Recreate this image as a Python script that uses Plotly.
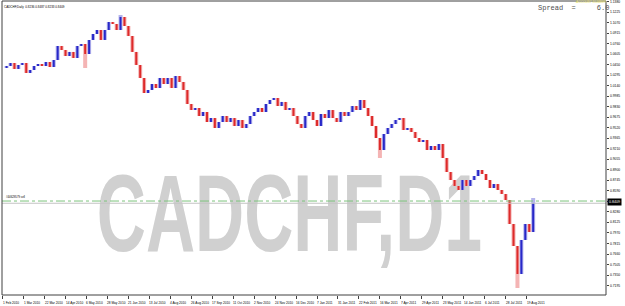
import plotly.graph_objects as go

# ---- data (daily CADCHF, one sample every 3 bars) ----
closes = [
    1.0405, 1.0435, 1.0479, 1.0391, 1.0450, 1.0479, 1.0332, 1.0376, 1.0435, 1.0464,
    1.0435, 1.0494, 1.0420, 1.0523, 1.0730, 1.0671, 1.0582, 1.0642, 1.0553, 1.0730,
    1.0760, 1.0612, 1.0819, 1.0907, 1.0966, 1.0819, 1.0966, 1.1084, 1.1055, 1.0966,
    1.1158, 1.1025, 1.0878, 1.0642, 1.0450, 1.0258, 1.0036, 1.0081, 1.0169, 1.0110,
    1.0258, 1.0169, 1.0258, 1.0110, 1.0287, 1.0199, 1.0081, 0.9874, 0.9785, 0.9815,
    0.9697, 0.9756, 0.9608, 0.9667, 0.9520, 0.9608, 0.9697, 0.9608, 0.9667, 0.9549,
    0.9638, 0.9520, 0.9579, 0.9697, 0.9756, 0.9815, 0.9756, 0.9874, 0.9933, 0.9963,
    0.9844, 0.9904, 0.9785, 0.9815, 0.9697, 0.9579, 0.9520, 0.9697, 0.9756, 0.9638,
    0.9549, 0.9726, 0.9667, 0.9785, 0.9667, 0.9608, 0.9756, 0.9697, 0.9756, 0.9844,
    0.9785, 0.9933, 0.9815, 0.9697, 0.9549, 0.9372, 0.9195, 0.9431, 0.9520, 0.9579,
    0.9638, 0.9667, 0.9490, 0.9520, 0.9461, 0.9372, 0.9313, 0.9343, 0.9195, 0.9254,
    0.9195, 0.9284, 0.9077, 0.8870, 0.8752, 0.8664, 0.8605, 0.8752, 0.8664, 0.8752,
    0.8811, 0.8900, 0.8841, 0.8752, 0.8634, 0.8693, 0.8605, 0.8546, 0.8457, 0.8103,
    0.7778, 0.7365, 0.7867, 0.8103, 0.7985, 0.8409,
]
low_spike_idx = [21, 96, 131]
low_spike = [1.0405, 0.9077, 0.7158]
high_spike_idx = [30, 135]
high_spike = [1.1188, 0.8487]

BARS_PER_SAMPLE = 3
BARS_PER_DATE_LABEL = 16
date_labels = [
    "1 Feb 2010", "1 Mar 2010", "22 Mar 2010", "14 Apr 2010", "6 May 2010",
    "28 May 2010", "21 Jun 2010", "13 Jul 2010", "4 Aug 2010", "26 Aug 2010",
    "17 Sep 2010", "11 Oct 2010", "2 Nov 2010", "24 Nov 2010", "16 Dec 2010",
    "7 Jan 2011", "31 Jan 2011", "22 Feb 2011", "16 Mar 2011", "7 Apr 2011",
    "29 Apr 2011", "23 May 2011", "14 Jun 2011", "6 Jul 2011", "28 Jul 2011",
    "19 Aug 2011",
]
price_labels = [
    1.1380, 1.1225, 1.1070, 1.0915, 1.0760, 1.0605, 1.0450, 1.0295, 1.0140, 0.9985,
    0.9830, 0.9675, 0.9520, 0.9365, 0.9210, 0.9055, 0.8900, 0.8745, 0.8590, 0.8435,
    0.8280, 0.8125, 0.7970, 0.7815, 0.7660, 0.7505, 0.7350, 0.7195, 0.7040,
]
order_price = 0.8442
bid_price = 0.8409
symbol = "CADCHF,D1"
header = "CADCHF,Daily  0.8236 0.8487 0.8233 0.8409"

# ---- build bars ----
n = len(closes)
xs = [BARS_PER_SAMPLE * k for k in range(n)]
opens = [closes[0]] + closes[:-1]
highs = [max(o, c) for o, c in zip(opens, closes)]
lows = [min(o, c) for o, c in zip(opens, closes)]
for i, v in zip(low_spike_idx, low_spike):
    lows[i] = v
for i, v in zip(high_spike_idx, high_spike):
    highs[i] = v

def segs(sel, ya, yb):
    X, Y = [], []
    for i in range(n):
        if sel(i):
            X += [xs[i], xs[i], None]
            Y += [ya[i], yb[i], None]
    return X, Y

up = lambda i: closes[i] >= opens[i]
dn = lambda i: closes[i] < opens[i]

fig = go.Figure()

# watermark (behind bars)
fig.add_trace(go.Scatter(
    x=[219], y=[0.8162], mode="text", text=[symbol],
    textfont=dict(family="Liberation Sans, Arial", size=68, color="#d0d0d0", weight="bold"),
    hoverinfo="skip", showlegend=False))

for sel, light, dark in [(up, "#b4b4ec", "#2828c8"), (dn, "#f4b4b4", "#dd2a2a")]:
    X, Y = segs(sel, lows, highs)
    fig.add_trace(go.Scatter(x=X, y=Y, mode="lines", line=dict(color=light, width=4.0),
                             hoverinfo="skip", showlegend=False))
for sel, light, dark in [(up, "#b4b4ec", "#2828c8"), (dn, "#f4b4b4", "#dd2a2a")]:
    X, Y = segs(sel, opens, closes)
    fig.add_trace(go.Scatter(x=X, y=Y, mode="lines", line=dict(color=dark, width=2.0),
                             hoverinfo="skip", showlegend=False))

shapes = [
    dict(type="line", xref="paper", x0=0, x1=1, yref="y", y0=order_price, y1=order_price,
         line=dict(color="#7cc47c", width=1, dash="dashdot"), layer="above"),
    dict(type="line", xref="paper", x0=0, x1=1, yref="y", y0=bid_price, y1=bid_price,
         line=dict(color="#c4c4c4", width=1), layer="above"),
    dict(type="rect", xref="paper", yref="paper", x0=0, x1=1, y0=0, y1=1,
         line=dict(color="#404040", width=1), layer="above"),
]

small = "Liberation Sans"
ann = []
for j, lab in enumerate(date_labels):
    ann.append(dict(x=j * BARS_PER_DATE_LABEL, xref="x", y=0, yref="paper",
                    text=lab, showarrow=False, xanchor="left", yanchor="top",
                    xshift=-2, yshift=-4, font=dict(family=small, size=3.2, color="#000")))
for p in price_labels:
    if abs(p - bid_price) < 0.004:
        continue  # hidden under the bid price box
    ann.append(dict(x=1, xref="paper", y=p, yref="y", text=f"{p:.4f}", showarrow=False,
                    xanchor="left", yanchor="middle", xshift=2,
                    font=dict(family=small, size=3.3, color="#000")))
ann += [
    dict(x=1, xref="paper", y=bid_price + 0.0012, yref="y", text=f"{bid_price:.4f}",
         showarrow=False, xanchor="left", yanchor="middle", xshift=1,
         bgcolor="#000", borderpad=1, font=dict(family=small, size=3.6, color="#fff")),
    dict(x=0, xref="paper", y=1, yref="paper", text=header, showarrow=False,
         xanchor="left", yanchor="top", xshift=0, yshift=-2,
         font=dict(family=small, size=3.0, color="#000")),
    dict(x=0, xref="paper", y=order_price, yref="y", text="#44629579 sell", showarrow=False,
         xanchor="left", yanchor="bottom", xshift=2, yshift=0,
         font=dict(family=small, size=2.8, color="#000")),
    dict(x=409, xref="x", y=0.976, yref="paper", text="Spread  =     6.0", showarrow=False,
         xanchor="left", yanchor="middle", xshift=-2,
         font=dict(family="Liberation Mono, DejaVu Sans Mono", size=7, color="#505050")),
    dict(x=436, xref="x", y=0.995, yref="paper", text="ACCOUNT NUMBER", showarrow=False,
         xanchor="left", yanchor="middle",
         font=dict(family=small, size=3.2, color="#e6e060")),
]

fig.update_layout(
    width=625, height=306,
    margin=dict(l=2, r=19, t=1, b=11),
    paper_bgcolor="#ffffff", plot_bgcolor="#ffffff",
    showlegend=False, hovermode=False,
    xaxis=dict(range=[-0.5, 460.6], showgrid=False, zeroline=False, showline=False,
               tickvals=[j * BARS_PER_DATE_LABEL for j in range(len(date_labels))],
               ticks="outside", ticklen=3, tickcolor="#404040", showticklabels=False,
               fixedrange=True),
    yaxis=dict(range=[0.70548, 1.13942], side="right", showgrid=False, zeroline=False,
               showline=False, tickvals=price_labels, ticks="outside", ticklen=2,
               tickcolor="#404040", showticklabels=False, fixedrange=True),
    shapes=shapes, annotations=ann,
)

# stretch the watermark vertically (tall condensed look of the terminal's watermark)
post_js = """
var gd = document.getElementById('{plot_id}');
gd.querySelectorAll('.textpoint text').forEach(function(t){
  var b = t.getBBox();
  var cx = b.x + b.width/2, cy = b.y + b.height/2;
  var prev = t.getAttribute('transform') || '';
  t.setAttribute('transform', 'translate(' + cx + ',' + cy + ') scale(1,1.6) translate(' + (-cx) + ',' + (-cy) + ') ' + prev);
});
"""

fig.write_html("out.html", config={"displayModeBar": False}, post_script=post_js)
